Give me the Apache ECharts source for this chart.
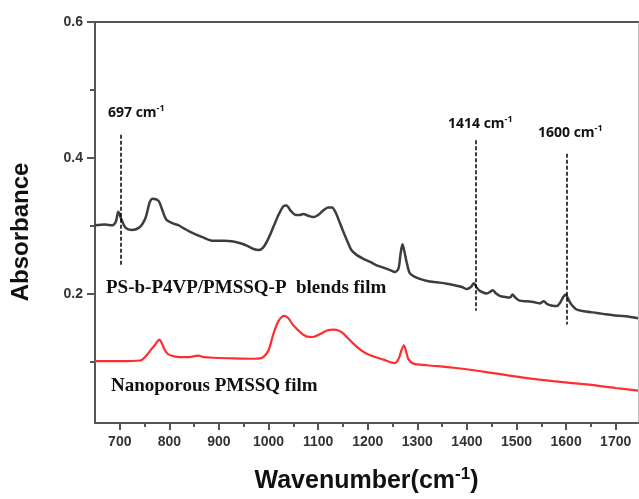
<!DOCTYPE html>
<html>
<head>
<meta charset="utf-8">
<title>FTIR spectra</title>
<script src="https://cdn.jsdelivr.net/npm/echarts@6/dist/echarts.min.js"></script>
<style>
  html, body { margin: 0; padding: 0; background: #fff; }
  #chart { width: 639px; height: 499px; }
</style>
</head>
<body>
<div id="chart"></div>
<script>
// PS-b-P4VP/PMSSQ-P blends film
const blendWn = [650, 670, 685, 692, 697, 703, 712, 724, 740, 752, 760, 766, 778, 785, 794, 806, 818, 830, 841, 855,
    868, 888, 910, 929, 945, 956, 970, 980, 989, 1000, 1010, 1020, 1030, 1036, 1045, 1055, 1063, 1070, 1080, 1090,
    1100, 1110, 1120, 1128, 1135, 1144, 1151, 1158, 1167, 1178, 1190, 1205, 1218, 1230, 1245, 1255, 1262, 1266, 1270, 1274,
    1279, 1285, 1295, 1305, 1320, 1340, 1359, 1373, 1390, 1400, 1408, 1414, 1420, 1426, 1440, 1447, 1452, 1458, 1466, 1480,
    1487, 1492, 1497, 1505, 1520, 1534, 1547, 1555, 1562, 1570, 1581, 1588, 1594, 1599, 1604, 1610, 1621, 1640, 1662, 1680,
    1695, 1720, 1745];
const blendAbs = [0.301, 0.302, 0.301, 0.306, 0.321, 0.310, 0.297, 0.294, 0.298, 0.312, 0.334, 0.340, 0.337, 0.325, 0.309, 0.304, 0.301, 0.296, 0.2915, 0.287,
    0.283, 0.278, 0.278, 0.277, 0.274, 0.271, 0.266, 0.2645, 0.268, 0.282, 0.299, 0.316, 0.329, 0.330, 0.322, 0.316, 0.316, 0.3175, 0.315, 0.313,
    0.316, 0.3225, 0.327, 0.327, 0.320, 0.304, 0.291, 0.279, 0.2645, 0.257, 0.252, 0.247, 0.242, 0.239, 0.235, 0.232, 0.2375, 0.258, 0.273, 0.262,
    0.245, 0.230, 0.225, 0.222, 0.219, 0.217, 0.215, 0.213, 0.210, 0.207, 0.210, 0.2155, 0.209, 0.2045, 0.2006, 0.203, 0.2055, 0.201, 0.197, 0.195,
    0.1947, 0.199, 0.195, 0.1905, 0.189, 0.188, 0.186, 0.189, 0.185, 0.183, 0.182, 0.187, 0.195, 0.199, 0.193, 0.185, 0.177, 0.174, 0.172, 0.170,
    0.1686, 0.167, 0.164];

// Nanoporous PMSSQ film
const porousWn = [650, 700, 741, 754, 764, 770, 780, 785, 791, 798, 810, 821, 840, 858, 870, 889, 930, 970, 983, 991,
    1000, 1010, 1020, 1032, 1040, 1050, 1065, 1078, 1090, 1104, 1118, 1131, 1141, 1151, 1161, 1171, 1185, 1198, 1215, 1232,
    1255, 1262, 1268, 1273, 1277, 1282, 1292, 1320, 1373, 1440, 1507, 1574, 1641, 1700, 1745];
const porousAbs = [0.101, 0.101, 0.102, 0.1095, 0.119, 0.124, 0.1327, 0.127, 0.117, 0.111, 0.108, 0.107, 0.107, 0.109, 0.107, 0.106, 0.105, 0.1045, 0.105, 0.108,
    0.117, 0.1415, 0.160, 0.1675, 0.164, 0.1538, 0.143, 0.137, 0.1365, 0.141, 0.146, 0.1475, 0.146, 0.1415, 0.134, 0.1268, 0.118, 0.112, 0.107, 0.1032,
    0.0982, 0.104, 0.117, 0.1243, 0.116, 0.104, 0.0973, 0.095, 0.0913, 0.0849, 0.0775, 0.0716, 0.0667, 0.0615, 0.0577];

// ticks
const xLabels = [700, 800, 900, 1000, 1100, 1200, 1300, 1400, 1500, 1600, 1700];
const xMinor = [750, 850, 950, 1050, 1150, 1250, 1350, 1450, 1550, 1650];
const yLabels = [0.2, 0.4, 0.6];
const yMinor = [0.1, 0.3, 0.5];

// marked peaks: position, top and bottom of the dashed line
const peakWn = [701, 1418, 1601];
const peakTop = [0.434, 0.426, 0.406];
const peakBottom = [0.240, 0.175, 0.155];
const peakNames = ['697', '1414', '1600'];

function pairs(xs, ys) {
    return xs.map((x, i) => [x, ys[i]]);
}

let chart = echarts.init(document.getElementById('chart'));

const axisColor = '#555';
const labelStyle = {
    color: '#333',
    fontFamily: 'Liberation Sans, Arial, sans-serif',
    fontWeight: 'bold',
    fontSize: 14
};

let peakLines = peakWn.map((w, i) => [
    { coord: [w, peakTop[i]] },
    { coord: [w, peakBottom[i]] }
]);

let peakPos = [[108, 104], [448, 115], [538, 124]];
let peakTexts = peakNames.map((n, i) => ({
    type: 'text',
    left: peakPos[i][0],
    top: peakPos[i][1],
    style: {
        text: '{b|' + n + ' cm}{s|-1}',
        rich: {
            b: { fontSize: 14, fontWeight: 'bold', fontFamily: 'Open Sans, sans-serif', fill: '#111', lineHeight: 18 },
            s: { fontSize: 9, fontWeight: 'bold', fontFamily: 'Open Sans, sans-serif', fill: '#111', verticalAlign: 'top', lineHeight: 18 }
        }
    }
}));

let option = {
    animation: false,
    grid: {
        left: 95,
        right: 1,
        top: 22,
        bottom: 76,
        containLabel: false
    },
    xAxis: [
        {
            type: 'value',
            min: 650,
            max: 1745,
            position: 'bottom',
            axisLine: { lineStyle: { color: axisColor, width: 2 } },
            axisTick: { customValues: xLabels, length: 7, lineStyle: { color: axisColor, width: 2 } },
            axisLabel: Object.assign({
                customValues: xLabels,
                margin: 12,
                formatter: v => String(v)
            }, labelStyle),
            splitLine: { show: false },
            name: '{a|Wavenumber(cm}{s|-1}{a|)}',
            nameLocation: 'middle',
            nameGap: 43,
            nameTextStyle: {
                rich: {
                    a: { fontSize: 25, fontWeight: 'bold', fontFamily: 'Liberation Sans, Arial, sans-serif', color: '#111', lineHeight: 30 },
                    s: { fontSize: 17, fontWeight: 'bold', fontFamily: 'Liberation Sans, Arial, sans-serif', color: '#111', verticalAlign: 'top', lineHeight: 30 }
                }
            }
        },
        {
            type: 'value',
            min: 650,
            max: 1745,
            position: 'bottom',
            axisLine: { show: false },
            axisTick: { customValues: xMinor, length: 4, lineStyle: { color: axisColor, width: 2 } },
            axisLabel: { show: false },
            splitLine: { show: false }
        },
        {
            type: 'value',
            min: 650,
            max: 1745,
            position: 'top',
            axisLine: { lineStyle: { color: axisColor, width: 2 } },
            axisTick: { show: false },
            axisLabel: { show: false },
            splitLine: { show: false }
        }
    ],
    yAxis: [
        {
            type: 'value',
            min: 0.01,
            max: 0.6,
            position: 'left',
            axisLine: { show: true, lineStyle: { color: axisColor, width: 2 } },
            axisTick: { show: true, customValues: yLabels, length: 8, lineStyle: { color: axisColor, width: 2 } },
            axisLabel: Object.assign({
                customValues: yLabels,
                margin: 12,
                formatter: v => v.toFixed(1)
            }, labelStyle),
            splitLine: { show: false }
        },
        {
            type: 'value',
            min: 0.01,
            max: 0.6,
            position: 'left',
            axisLine: { show: false },
            axisTick: { show: true, customValues: yMinor, length: 5, lineStyle: { color: axisColor, width: 2 } },
            axisLabel: { show: false },
            splitLine: { show: false }
        },
        {
            type: 'value',
            min: 0.01,
            max: 0.6,
            position: 'right',
            axisLine: { show: true, lineStyle: { color: '#bbb', width: 1 } },
            axisTick: { show: false },
            axisLabel: { show: false },
            splitLine: { show: false }
        }
    ],
    series: [
        {
            name: 'PS-b-P4VP/PMSSQ-P blends film',
            type: 'line',
            data: pairs(blendWn, blendAbs),
            smooth: 0.3,
            symbol: 'none',
            lineStyle: { color: '#3d3d3d', width: 2.5 },
            markLine: {
                silent: true,
                symbol: 'none',
                label: { show: false },
                lineStyle: { color: '#000', type: [4, 2], width: 1.5 },
                data: peakLines
            }
        },
        {
            name: 'Nanoporous PMSSQ film',
            type: 'line',
            data: pairs(porousWn, porousAbs),
            smooth: 0.3,
            symbol: 'none',
            lineStyle: { color: '#ff2e2e', width: 2.2 }
        }
    ],
    graphic: [
        {
            type: 'text',
            x: 21,
            y: 232,
            rotation: Math.PI / 2,
            style: {
                text: 'Absorbance',
                fontSize: 24,
                fontWeight: 'bold',
                fontFamily: 'Liberation Sans, Arial, sans-serif',
                fill: '#111',
                align: 'center',
                verticalAlign: 'middle'
            }
        },
        {
            type: 'text',
            left: 106,
            top: 279,
            style: {
                text: 'PS-b-P4VP/PMSSQ-P  blends film',
                fontSize: 19,
                fontWeight: 'bold',
                fontFamily: 'Liberation Serif, Times New Roman, serif',
                fill: '#111'
            }
        },
        {
            type: 'text',
            left: 111,
            top: 377,
            style: {
                text: 'Nanoporous PMSSQ film',
                fontSize: 19,
                fontWeight: 'bold',
                fontFamily: 'Liberation Serif, Times New Roman, serif',
                fill: '#111'
            }
        }
    ].concat(peakTexts)
};

chart.setOption(option);
</script>
</body>
</html>
